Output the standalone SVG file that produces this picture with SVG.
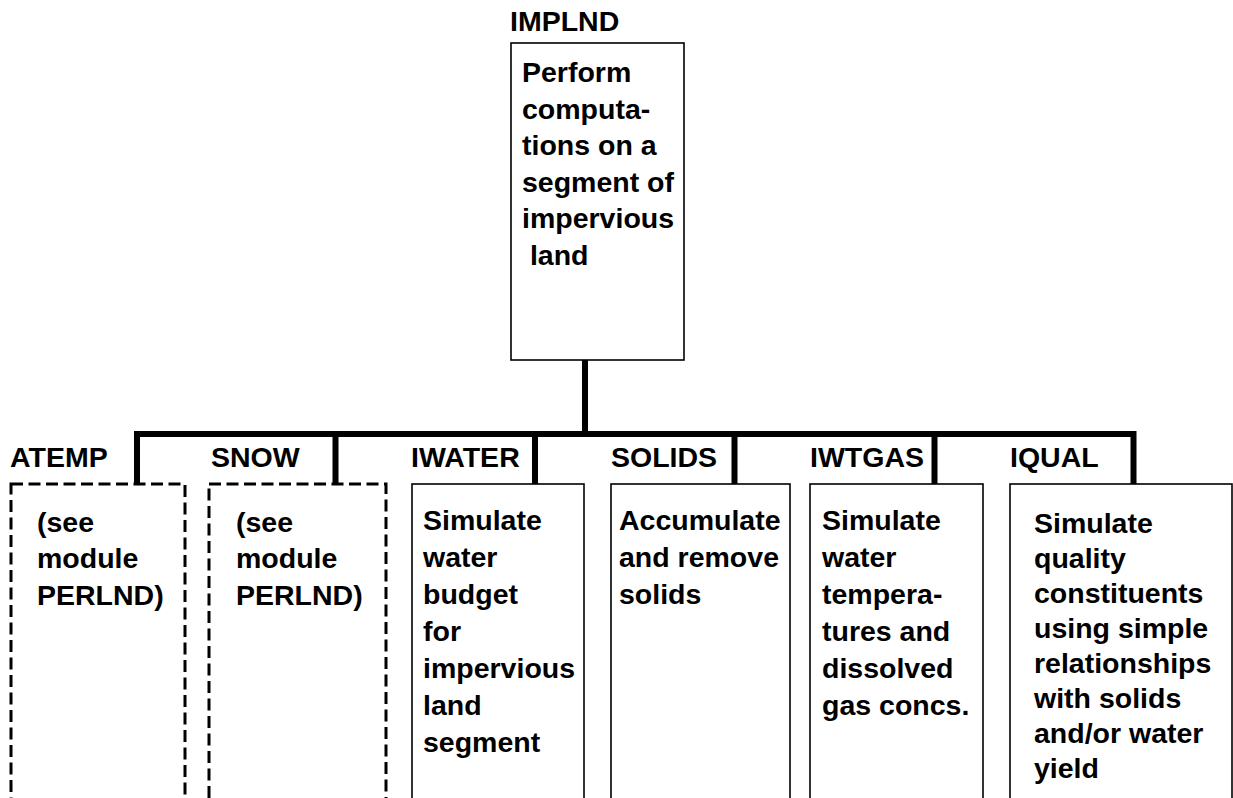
<svg xmlns="http://www.w3.org/2000/svg" width="1233" height="798" viewBox="0 0 1233 798">
<style>
text{font-family:"Liberation Sans",Arial,sans-serif;font-weight:bold;font-size:28.5px;fill:#000}
.box{fill:#fff;stroke:#000;stroke-width:1.6}
.dbox{fill:#fff;stroke:#000;stroke-width:3;stroke-dasharray:12 5.5}
.conn{fill:none;stroke:#000;stroke-width:6;stroke-linejoin:miter;stroke-linecap:butt}
</style>
<rect width="1233" height="798" fill="#fff"/>
<g id="connectors">
<path class="conn" d="M585,360 V434"/>
<path class="conn" d="M137,484 V434 H1133.5 V484"/>
<path class="conn" d="M335.5,434 V484"/>
<path class="conn" d="M535,434 V484"/>
<path class="conn" d="M734.5,434 V484"/>
<path class="conn" d="M934.5,434 V484"/>
</g>
<g id="implnd">
<text x="510" y="31">IMPLND</text>
<rect class="box" x="511" y="43" width="173" height="317"/>
<text x="522" y="82">Perform</text>
<text x="522" y="119">computa-</text>
<text x="522" y="155">tions on a</text>
<text x="522" y="192">segment of</text>
<text x="522" y="228">impervious</text>
<text x="522" y="265" xml:space="preserve"> land</text>
</g>
<g id="atemp">
<text x="10" y="467">ATEMP</text>
<rect class="dbox" x="11" y="484" width="174" height="330"/>
<text x="37" y="532">(see</text>
<text x="37" y="568">module</text>
<text x="37" y="605">PERLND)</text>
</g>
<g id="snow">
<text x="211" y="467">SNOW</text>
<rect class="dbox" x="209" y="484" width="177" height="330"/>
<text x="236" y="532">(see</text>
<text x="236" y="568">module</text>
<text x="236" y="605">PERLND)</text>
</g>
<g id="iwater">
<text x="411" y="467">IWATER</text>
<rect class="box" x="412" y="484" width="172" height="330"/>
<text x="423" y="530">Simulate</text>
<text x="423" y="567">water</text>
<text x="423" y="604">budget</text>
<text x="423" y="641">for</text>
<text x="423" y="678">impervious</text>
<text x="423" y="715">land</text>
<text x="423" y="752">segment</text>
</g>
<g id="solids">
<text x="611" y="467">SOLIDS</text>
<rect class="box" x="611" y="484" width="179" height="330"/>
<text x="619" y="530">Accumulate</text>
<text x="619" y="567">and remove</text>
<text x="619" y="604">solids</text>
</g>
<g id="iwtgas">
<text x="810" y="467">IWTGAS</text>
<rect class="box" x="810" y="484" width="173" height="330"/>
<text x="822" y="530">Simulate</text>
<text x="822" y="567">water</text>
<text x="822" y="604">tempera-</text>
<text x="822" y="641">tures and</text>
<text x="822" y="678">dissolved</text>
<text x="822" y="715">gas concs.</text>
</g>
<g id="iqual">
<text x="1010" y="467">IQUAL</text>
<rect class="box" x="1010" y="484" width="222" height="330"/>
<text x="1034" y="533">Simulate</text>
<text x="1034" y="568">quality</text>
<text x="1034" y="603">constituents</text>
<text x="1034" y="638">using simple</text>
<text x="1034" y="673">relationships</text>
<text x="1034" y="708">with solids</text>
<text x="1034" y="743">and/or water</text>
<text x="1034" y="778">yield</text>
</g>
</svg>
